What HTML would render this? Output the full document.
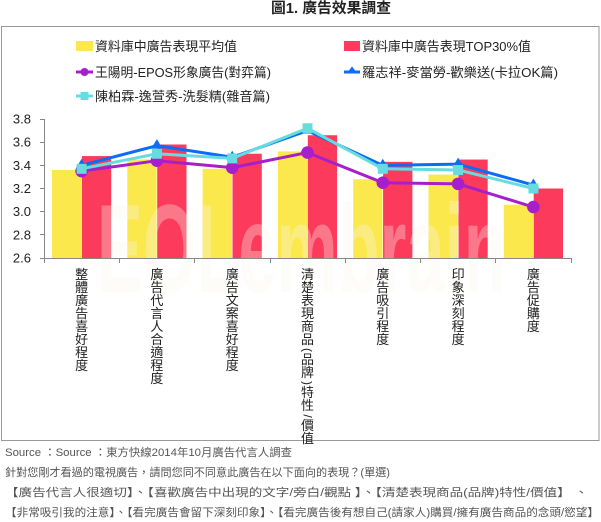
<!DOCTYPE html>
<html><head><meta charset="utf-8">
<style>
html,body{margin:0;padding:0;background:#fff;}
svg{display:block;}
text{font-family:"Liberation Sans","Noto Sans CJK TC",sans-serif;}
</style></head>
<body>
<svg width="601" height="522" viewBox="0 0 601 522" xmlns="http://www.w3.org/2000/svg">
<rect x="0" y="0" width="601" height="522" fill="#fff"/>
<!-- title -->
<text x="271" y="13" font-size="14.5" font-weight="bold" fill="#222" textLength="120" lengthAdjust="spacingAndGlyphs">圖1. 廣告效果調查</text>
<!-- frame -->
<rect x="1.5" y="26.5" width="597.5" height="414" fill="none" stroke="#999" stroke-width="1"/>

<!-- legend -->
<g font-size="13" fill="#222">
<rect x="76" y="41" width="17" height="10" fill="#FBE84D"/>
<text x="95" y="51" textLength="142" lengthAdjust="spacingAndGlyphs">資料庫中廣告表現平均值</text>
<rect x="344" y="41" width="16" height="10" fill="#FC3B5C"/>
<text x="362" y="51" textLength="169" lengthAdjust="spacingAndGlyphs">資料庫中廣告表現TOP30%值</text>

<line x1="76" y1="72" x2="93" y2="72" stroke="#A61FCB" stroke-width="3"/>
<circle cx="84.5" cy="72" r="4" fill="#A61FCB"/>
<text x="95" y="77" textLength="176" lengthAdjust="spacingAndGlyphs">王陽明-EPOS形象廣告(對弈篇)</text>
<line x1="344" y1="72" x2="360" y2="72" stroke="#0B6CF5" stroke-width="3"/>
<polygon points="352,66.5 357,73 347,73" fill="#0B6CF5"/>
<text x="362" y="77" textLength="196" lengthAdjust="spacingAndGlyphs">羅志祥-麥當勞-歡樂送(卡拉OK篇)</text>

<line x1="76" y1="96" x2="93" y2="96" stroke="#67DCE0" stroke-width="3"/>
<rect x="80.5" y="92" width="8" height="8" fill="#67DCE0"/>
<text x="95" y="101" textLength="175" lengthAdjust="spacingAndGlyphs">陳柏霖-逸萱秀-洗髮精(雜音篇)</text>
</g>

<!-- y axis labels -->
<g font-size="13" fill="#222" text-anchor="end">
<text x="31" y="123.5">3.8</text>
<text x="31" y="146.7">3.6</text>
<text x="31" y="169.8">3.4</text>
<text x="31" y="193">3.2</text>
<text x="31" y="216.2">3.0</text>
<text x="31" y="239.3">2.8</text>
<text x="31" y="262.5">2.6</text>
</g>

<!-- bars -->
<g fill="#FBE84D">
<rect x="52" y="169.97" width="29.3" height="88.03"/>
<rect x="127.3" y="159.54" width="29.3" height="98.46"/>
<rect x="202.6" y="168.81" width="29.3" height="89.19"/>
<rect x="277.9" y="151.44" width="29.3" height="106.56"/>
<rect x="353.2" y="179.24" width="29.3" height="78.76"/>
<rect x="428.5" y="174.6" width="29.3" height="83.4"/>
<rect x="503.8" y="204.72" width="29.3" height="53.28"/>
</g>
<g fill="#FC3B5C">
<rect x="81.9" y="156.07" width="29.3" height="101.93"/>
<rect x="157.2" y="144.49" width="29.3" height="113.51"/>
<rect x="232.5" y="153.75" width="29.3" height="104.25"/>
<rect x="307.8" y="135.22" width="29.3" height="122.78"/>
<rect x="383.1" y="161.86" width="29.3" height="96.14"/>
<rect x="458.4" y="159.54" width="29.3" height="98.46"/>
<rect x="533.7" y="188.5" width="29.3" height="69.5"/>
</g>

<!-- watermark -->
<text transform="translate(97,292) scale(0.55,1)" font-size="125" font-weight="bold" fill="rgb(250,247,235)" fill-opacity="0.32">EOLembrain</text>

<!-- axes -->
<g stroke="#888" stroke-width="1" fill="none">
<line x1="44.5" y1="119" x2="44.5" y2="258"/>
<line x1="44" y1="258.5" x2="571.5" y2="258.5"/>
<line x1="40" y1="119.5" x2="44" y2="119.5"/>
<line x1="40" y1="142.5" x2="44" y2="142.5"/>
<line x1="40" y1="165.5" x2="44" y2="165.5"/>
<line x1="40" y1="188.5" x2="44" y2="188.5"/>
<line x1="40" y1="211.5" x2="44" y2="211.5"/>
<line x1="40" y1="234.5" x2="44" y2="234.5"/>
<line x1="40" y1="258.5" x2="44" y2="258.5"/>
<line x1="44.5" y1="258" x2="44.5" y2="263"/>
<line x1="119.5" y1="258" x2="119.5" y2="263"/>
<line x1="194.5" y1="258" x2="194.5" y2="263"/>
<line x1="270.5" y1="258" x2="270.5" y2="263"/>
<line x1="345.5" y1="258" x2="345.5" y2="263"/>
<line x1="420.5" y1="258" x2="420.5" y2="263"/>
<line x1="495.5" y1="258" x2="495.5" y2="263"/>
<line x1="571.5" y1="258" x2="571.5" y2="263"/>
</g>

<!-- purple series -->
<polyline points="81.6,171.13 156.9,160.7 232.2,167.65 307.5,152.59 382.8,182.71 458.1,183.87 533.4,207.03" fill="none" stroke="#A61FCB" stroke-width="3" stroke-linejoin="round"/>
<g fill="#A61FCB">
<circle cx="81.6" cy="171.13" r="6.3"/>
<circle cx="156.9" cy="160.7" r="6.3"/>
<circle cx="232.2" cy="167.65" r="6.3"/>
<circle cx="307.5" cy="152.59" r="6.3"/>
<circle cx="382.8" cy="182.71" r="6.3"/>
<circle cx="458.1" cy="183.87" r="6.3"/>
<circle cx="533.4" cy="207.03" r="6.3"/>
</g>

<!-- blue series -->
<polyline points="81.6,165.34 156.9,145.64 232.2,157.23 307.5,130.59 382.8,165.34 458.1,164.18 533.4,185.03" fill="none" stroke="#0B6CF5" stroke-width="3" stroke-linejoin="round"/>
<g fill="#0B6CF5">
<polygon points="81.6,158.8 87.3,168.3 75.9,168.3"/>
<polygon points="156.9,139.1 162.6,148.6 151.2,148.6"/>
<polygon points="232.2,150.7 237.9,160.2 226.5,160.2"/>
<polygon points="307.5,124.1 313.2,133.6 301.8,133.6"/>
<polygon points="382.8,158.8 388.5,168.3 377.1,168.3"/>
<polygon points="458.1,157.6 463.8,167.1 452.4,167.1"/>
<polygon points="533.4,178.5 539.1,188 527.7,188"/>
</g>

<!-- cyan series -->
<polyline points="81.6,168.81 156.9,153.75 232.2,158.39 307.5,128.27 382.8,168.81 458.1,169.97 533.4,188.5" fill="none" stroke="#67DCE0" stroke-width="3" stroke-linejoin="round"/>
<g fill="#67DCE0">
<rect x="76.6" y="163.81" width="10" height="10"/>
<rect x="151.9" y="148.75" width="10" height="10"/>
<rect x="227.2" y="153.39" width="10" height="10"/>
<rect x="302.5" y="123.27" width="10" height="10"/>
<rect x="377.8" y="163.81" width="10" height="10"/>
<rect x="453.1" y="164.97" width="10" height="10"/>
<rect x="528.4" y="183.5" width="10" height="10"/>
</g>

<!-- x labels (vertical) -->
<g font-size="13" fill="#222" text-anchor="middle">
<!-- cat1 -->
<text x="81.6" y="279">整</text><text x="81.6" y="292">體</text><text x="81.6" y="305">廣</text><text x="81.6" y="318">告</text><text x="81.6" y="331">喜</text><text x="81.6" y="344">好</text><text x="81.6" y="357">程</text><text x="81.6" y="370">度</text>
<!-- cat2 -->
<text x="156.9" y="279">廣</text><text x="156.9" y="292">告</text><text x="156.9" y="305">代</text><text x="156.9" y="318">言</text><text x="156.9" y="331">人</text><text x="156.9" y="344">合</text><text x="156.9" y="357">適</text><text x="156.9" y="370">程</text><text x="156.9" y="383">度</text>
<!-- cat3 -->
<text x="232.2" y="279">廣</text><text x="232.2" y="292">告</text><text x="232.2" y="305">文</text><text x="232.2" y="318">案</text><text x="232.2" y="331">喜</text><text x="232.2" y="344">好</text><text x="232.2" y="357">程</text><text x="232.2" y="370">度</text>
<!-- cat4 -->
<text x="307.5" y="279">清</text><text x="307.5" y="292">楚</text><text x="307.5" y="305">表</text><text x="307.5" y="318">現</text><text x="307.5" y="331">商</text><text x="307.5" y="344">品</text>
<text transform="translate(307.5,350) rotate(90)" x="0" y="4" font-size="12">(</text>
<text x="307.5" y="364">品</text><text x="307.5" y="377">牌</text>
<text transform="translate(307.5,383) rotate(90)" x="0" y="4" font-size="12">)</text>
<text x="307.5" y="397">特</text><text x="307.5" y="410">性</text>
<text transform="translate(307.5,416) rotate(90)" x="0" y="4" font-size="12">/</text>
<text x="307.5" y="430">價</text><text x="307.5" y="443">值</text>
<!-- cat5 -->
<text x="382.8" y="279">廣</text><text x="382.8" y="292">告</text><text x="382.8" y="305">吸</text><text x="382.8" y="318">引</text><text x="382.8" y="331">程</text><text x="382.8" y="344">度</text>
<!-- cat6 -->
<text x="458.1" y="279">印</text><text x="458.1" y="292">象</text><text x="458.1" y="305">深</text><text x="458.1" y="318">刻</text><text x="458.1" y="331">程</text><text x="458.1" y="344">度</text>
<!-- cat7 -->
<text x="533.4" y="279">廣</text><text x="533.4" y="292">告</text><text x="533.4" y="305">促</text><text x="533.4" y="318">購</text><text x="533.4" y="331">度</text>
</g>

<!-- footer text -->
<g font-size="11" fill="#555">
<text x="5" y="456" textLength="287" lengthAdjust="spacingAndGlyphs">Source ：Source ：東方快線2014年10月廣告代言人調查</text>
<text x="5" y="476" textLength="385" lengthAdjust="spacingAndGlyphs">針對您剛才看過的電視廣告，請問您同不同意此廣告在以下面向的表現？(單選)</text>
<text x="5" y="496" textLength="583" lengthAdjust="spacingAndGlyphs">【廣告代言人很適切】、【喜歡廣告中出現的文字/旁白/觀點 】、【清楚表現商品(品牌)特性/價值】 、</text>
<text x="5" y="516" textLength="594" lengthAdjust="spacingAndGlyphs">【非常吸引我的注意】、【看完廣告會留下深刻印象】、【看完廣告後有想自己(請家人)購買/擁有廣告商品的念頭/慾望】</text>
</g>
</svg>
</body></html>
